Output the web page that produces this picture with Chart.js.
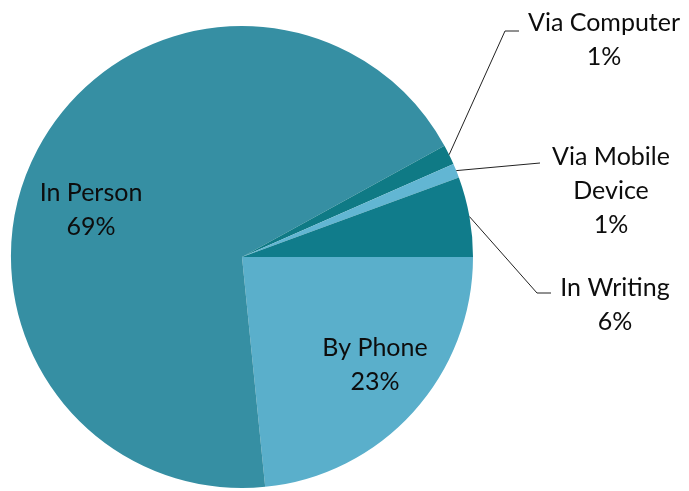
<!DOCTYPE html>
<html>
<head>
<meta charset="utf-8">
<script src="https://cdn.jsdelivr.net/npm/chart.js@4.4.0/dist/chart.umd.min.js"></script>
<style>
  html, body { margin: 0; padding: 0; background: #ffffff; }
  #wrap { width: 689px; height: 491px; }
</style>
</head>
<body>
<div id="wrap"><canvas id="myChart" width="689" height="491"></canvas></div>
<script>
// Valeurs (ordre horaire depuis 3 heures)
const categories = ['By Phone', 'In Person', 'Via Computer', 'Via Mobile Device', 'In Writing'];
const shares = [23.4, 68.6, 1.4, 1.0, 5.6];
const percentLabels = ['23%', '69%', '1%', '1%', '6%'];
const sliceColors = ['#5aafcb', '#368fa3', '#0f7a85', '#62b6d3', '#107c8b'];

// Position des étiquettes (lignes de texte + coude de la ligne de rappel)
const labelLayout = [
    { lines: ['By Phone'], x: 375, y: 348 },
    { lines: ['In Person'], x: 91, y: 193 },
    { lines: ['Via Computer'], x: 604, y: 23, elbow: [505, 31], end: [519, 31] },
    { lines: ['Via Mobile', 'Device'], x: 611, y: 157, elbow: [540, 163], end: [540, 163] },
    { lines: ['In Writing'], x: 615, y: 288, elbow: [537, 293], end: [551, 293] }
];

const labelPlugin = {
    id: 'sliceLabels',
    afterDatasetsDraw(chart) {
        const ctx = chart.ctx;
        const arcs = chart.getDatasetMeta(0).data;
        ctx.save();
        ctx.font = '25px Lato, Calibri, sans-serif';
        ctx.fillStyle = '#0d0d0d';
        ctx.textAlign = 'center';
        ctx.textBaseline = 'middle';
        labelLayout.forEach((lab, i) => {
            const arc = arcs[i];
            if (lab.elbow) {
                const mid = (arc.startAngle + arc.endAngle) / 2;
                const sx = arc.x + Math.cos(mid) * arc.outerRadius;
                const sy = arc.y + Math.sin(mid) * arc.outerRadius;
                ctx.beginPath();
                ctx.strokeStyle = '#222222';
                ctx.lineWidth = 1;
                ctx.moveTo(sx, sy);
                ctx.lineTo(lab.elbow[0], lab.elbow[1]);
                ctx.lineTo(lab.end[0], lab.end[1]);
                ctx.stroke();
            }
            const lines = lab.lines.concat([percentLabels[i]]);
            lines.forEach((t, k) => {
                ctx.fillText(t, lab.x, lab.y + k * 34);
            });
        });
        ctx.restore();
    }
};

const ctx = document.getElementById('myChart').getContext('2d');
const myChart = new Chart(ctx, {
    type: 'pie',
    data: {
        labels: categories,
        datasets: [{
            data: shares,
            backgroundColor: sliceColors,
            borderWidth: 0
        }]
    },
    options: {
        responsive: false,
        animation: false,
        rotation: 90,
        layout: {
            padding: { left: 11, right: 216, top: 26, bottom: 3 }
        },
        plugins: {
            legend: { display: false },
            tooltip: { enabled: false }
        }
    },
    plugins: [labelPlugin]
});
</script>
</body>
</html>
